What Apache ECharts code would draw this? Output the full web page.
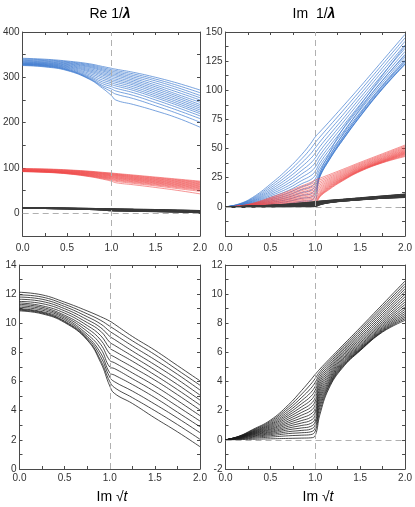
<!DOCTYPE html>
<html><head><meta charset="utf-8">
<script src="https://cdn.jsdelivr.net/npm/echarts@6/dist/echarts.min.js"></script>
<style>html,body{margin:0;padding:0;background:#fff}#c{width:415px;height:507px}</style>
</head><body><div id="c"></div>
<script>
// ---------- x grids ----------
const X_RE = [0, 0.25, 0.5, 0.75, 0.9, 1.0, 1.05, 1.25, 1.5, 1.75, 2.0];
const X_IM = [0, 0.15, 0.3, 0.5, 0.7, 0.85, 0.95, 1.0, 1.05, 1.15, 1.3, 1.5, 1.75, 2.0];
const X_TICKS = [0, 0.5, 1.0, 1.5, 2.0];

// ---------- Re 1/λ, blue family (one column per X_RE point, top curve first) ----------
const RE_BLUE = [
  [342, 340.5, 339, 337.5, 336, 334.7, 333.5, 332.4, 331.4, 330.5, 329.7, 329, 328.3, 327.6, 326.8, 326],
  [340, 338.5, 337, 335.5, 334, 332.7, 331.5, 330.4, 329.4, 328.4, 327.5, 326.6, 325.8, 325, 324, 323],
  [336, 334.5, 333, 331.5, 330, 328.5, 327, 325.5, 324, 322.5, 321, 319.5, 318, 317, 316, 315],
  [330, 328, 326, 324, 322, 319.5, 317, 314.5, 312, 309, 306, 303, 300.5, 298.5, 297, 296],
  [324, 321.5, 319, 316.5, 314, 311, 308, 305, 301.5, 298, 294, 290, 286, 282, 279, 276],
  [320, 317, 314, 311, 308, 305, 302, 298.5, 295, 291.5, 288, 284, 279.5, 274.5, 268.5, 260],
  [318, 315, 312, 309, 306, 303, 299.5, 296, 292.5, 289, 285, 281, 276, 270, 263, 250],
  [311, 307.5, 304, 300.5, 297, 293.5, 290, 286.5, 283, 279, 275, 271, 266, 260, 253, 240],
  [300, 296, 292, 287.5, 283, 279, 275, 271, 267, 263, 259, 255, 250, 244, 237, 226],
  [287, 282, 277, 272, 267, 262, 258, 254, 250, 246, 242, 238, 233, 227, 220, 210],
  [272, 266, 260, 255, 250, 245, 240, 236, 232, 228, 224, 220, 215, 209, 201, 190]
];

// ---------- Re 1/λ, red family (columns per X_RE) ----------
const RE_RED = [
  [99, 98.3, 97.6, 97, 96.4, 95.8, 95.3, 94.8, 94.3, 93.9, 93.5, 93.1, 92.8, 92.5, 92.2, 92],
  [98, 97.3, 96.6, 96, 95.4, 94.8, 94.2, 93.7, 93.2, 92.7, 92.3, 91.9, 91.5, 91.1, 90.8, 90.5],
  [96, 95.3, 94.6, 93.9, 93.2, 92.5, 91.9, 91.3, 90.7, 90.1, 89.6, 89.1, 88.6, 88.1, 87.6, 87.2],
  [93, 92.2, 91.4, 90.6, 89.8, 89, 88.2, 87.4, 86.6, 85.8, 85, 84.2, 83.4, 82.6, 81.8, 81],
  [90.5, 89.6, 88.7, 87.8, 86.9, 86, 85, 84, 83, 82, 81, 80, 79, 78, 76.8, 75.5],
  [89, 88, 87, 86, 85, 84, 83, 82, 81, 79.8, 78.6, 77.4, 76.2, 74.8, 73.2, 71],
  [88, 87, 86, 85, 84, 83, 81.8, 80.6, 79.4, 78.2, 77, 75.6, 74.2, 72.6, 70.6, 67.5],
  [84.5, 83.3, 82.1, 80.9, 79.7, 78.5, 77.3, 76.1, 74.9, 73.7, 72.4, 71, 69.6, 68, 66, 63],
  [80, 78.7, 77.4, 76.1, 74.8, 73.5, 72.2, 70.9, 69.6, 68.3, 67, 65.6, 64.1, 62.5, 60.5, 57],
  [75.5, 74.1, 72.7, 71.3, 69.9, 68.5, 67.1, 65.7, 64.3, 62.9, 61.5, 60, 58.4, 56.7, 54.5, 50.5],
  [71, 69.5, 68, 66.5, 65, 63.5, 62, 60.5, 59, 57.5, 56, 54.5, 52.8, 51, 48.5, 43]
];

// ---------- Re 1/λ, black family (one row per curve, values at X_RE) ----------
const RE_BLACK = [
  [12.13, 11.95, 11.45, 10.85, 10.45, 10.15, 9.95, 9.1, 8.15, 7.1, 6.05],
  [11.95, 11.8, 11.3, 10.65, 10.2, 9.8, 9.6, 8.8, 7.85, 6.8, 5.75],
  [11.8, 11.65, 11.15, 10.45, 9.95, 9.45, 9.25, 8.45, 7.5, 6.5, 5.42],
  [11.65, 11.5, 11.0, 10.25, 9.7, 9.1, 8.9, 8.1, 7.15, 6.15, 5.07],
  [11.5, 11.35, 10.85, 10.05, 9.45, 8.7, 8.5, 7.75, 6.8, 5.8, 4.73],
  [11.4, 11.2, 10.7, 9.85, 9.15, 8.3, 8.1, 7.4, 6.45, 5.45, 4.39],
  [11.3, 11.1, 10.55, 9.65, 8.85, 7.9, 7.7, 7.0, 6.1, 5.1, 4.05],
  [11.2, 11.0, 10.45, 9.45, 8.55, 7.45, 7.3, 6.6, 5.7, 4.7, 3.66],
  [11.1, 10.9, 10.35, 9.25, 8.25, 7.0, 6.9, 6.2, 5.3, 4.3, 3.29],
  [11.0, 10.8, 10.25, 9.1, 7.95, 6.6, 6.45, 5.8, 4.9, 3.9, 2.9],
  [10.95, 10.75, 10.15, 9.0, 7.7, 6.3, 6.0, 5.35, 4.45, 3.5, 2.49],
  [10.9, 10.7, 10.1, 8.9, 7.45, 6.0, 5.6, 4.9, 4.0, 3.05, 2.04],
  [10.85, 10.65, 10.05, 8.85, 7.3, 5.7, 5.2, 4.5, 3.5, 2.55, 1.53]
];

// ---------- Im 1/λ, blue family (columns per X_IM) ----------
const IM_BLUE = [
  [0,0,0,0,0,0,0,0,0,0,0,0,0,0,0,0],
  [2.5, 2.3, 2.1, 1.9, 1.7, 1.55, 1.4, 1.25, 1.1, 0.95, 0.8, 0.65, 0.5, 0.35, 0.22, 0.1],
  [8, 7.3, 6.6, 6.0, 5.4, 4.9, 4.4, 3.9, 3.4, 2.95, 2.5, 2.05, 1.6, 1.15, 0.7, 0.25],
  [19.5, 17.8, 16.2, 14.7, 13.3, 12.0, 10.7, 9.5, 8.3, 7.1, 6.0, 4.9, 3.8, 2.7, 1.6, 0.5],
  [33, 30.2, 27.5, 25, 22.6, 20.3, 18.1, 16, 14, 12, 10.1, 8.3, 6.5, 4.7, 2.9, 0.9],
  [45, 41.3, 37.8, 34.5, 31.3, 28.3, 25.4, 22.6, 19.9, 17.3, 14.8, 12.3, 9.9, 7.4, 4.8, 1.4],
  [54.5, 50, 45.7, 41.6, 37.6, 33.8, 30.2, 26.7, 23.4, 20.2, 17.1, 14.1, 11.2, 8.3, 5.4, 1.9],
  [60, 55.2, 50.6, 46.2, 42, 38, 34.2, 30.6, 27.2, 24, 21, 18.2, 15.5, 12.8, 10, 4],
  [64.2, 59.8, 55.6, 51.6, 47.8, 44.2, 40.8, 37.6, 34.7, 32, 29.6, 27.6, 26.2, 25.6, 26, 28],
  [72.6, 68.6, 64.8, 61.1, 57.6, 54.3, 51.2, 48.3, 45.7, 43.4, 41.5, 40.1, 39.4, 39.8, 41.8, 45],
  [85.5, 81.8, 78.2, 74.8, 71.6, 68.6, 65.8, 63.2, 60.9, 59, 57.5, 56.6, 56.8, 58.5, 61.5, 66],
  [103, 99.7, 96.5, 93.5, 90.6, 87.9, 85.4, 83.1, 81.1, 79.4, 78.1, 77.4, 77.8, 80, 84, 87],
  [125.5, 122.4, 119.4, 116.5, 113.7, 111.1, 108.7, 106.5, 104.6, 103, 101.8, 101.2, 101.6, 104, 108.5, 113],
  [148, 145, 142, 139, 136, 133.3, 130.8, 128.5, 126.5, 124.7, 123.2, 122.3, 122.5, 125, 130, 138]
];

// ---------- Im 1/λ, red family (columns per X_IM) ----------
const IM_RED = [
  [0,0,0,0,0,0,0,0,0,0,0,0,0,0,0,0],
  [0.8, 0.74, 0.68, 0.62, 0.56, 0.5, 0.45, 0.4, 0.35, 0.3, 0.25, 0.2, 0.15, 0.1, 0.06, 0.03],
  [3, 2.75, 2.5, 2.27, 2.05, 1.84, 1.64, 1.45, 1.27, 1.1, 0.93, 0.77, 0.61, 0.45, 0.29, 0.12],
  [8, 7.3, 6.65, 6.05, 5.48, 4.94, 4.43, 3.95, 3.49, 3.05, 2.63, 2.22, 1.82, 1.4, 0.95, 0.35],
  [13.5, 12.4, 11.35, 10.35, 9.4, 8.5, 7.65, 6.85, 6.07, 5.32, 4.6, 3.9, 3.2, 2.45, 1.65, 0.6],
  [18, 16.6, 15.25, 13.95, 12.7, 11.5, 10.35, 9.25, 8.2, 7.18, 6.2, 5.23, 4.27, 3.28, 2.2, 0.8],
  [21, 19.4, 17.85, 16.35, 14.9, 13.5, 12.15, 10.85, 9.6, 8.4, 7.23, 6.1, 4.97, 3.82, 2.6, 0.95],
  [23, 21.3, 19.65, 18.05, 16.5, 15, 13.55, 12.15, 10.8, 9.5, 8.25, 7.05, 5.85, 4.65, 3.4, 1.5],
  [24.5, 23, 21.55, 20.15, 18.8, 17.5, 16.25, 15.05, 13.9, 12.8, 11.8, 10.9, 10.1, 9.5, 9.0, 8.5],
  [27.5, 26.3, 25.15, 24.05, 23, 22, 21.05, 20.15, 19.3, 18.5, 17.75, 17.05, 16.4, 15.8, 15.2, 14.6],
  [32, 31, 30.05, 29.15, 28.3, 27.5, 26.75, 26.05, 25.4, 24.8, 24.25, 23.75, 23.3, 22.9, 22.5, 22.1],
  [38.2, 37.35, 36.55, 35.8, 35.1, 34.45, 33.85, 33.3, 32.8, 32.35, 31.95, 31.6, 31.3, 31.0, 30.7, 30.4],
  [45.6, 44.75, 43.95, 43.2, 42.5, 41.85, 41.25, 40.7, 40.2, 39.75, 39.35, 39.0, 38.7, 38.4, 38.1, 37.8],
  [53, 52.1, 51.25, 50.45, 49.7, 49.0, 48.35, 47.75, 47.2, 46.7, 46.2, 45.7, 45.2, 44.6, 43.9, 43.2]
];

// ---------- Im 1/λ, black family (columns per X_IM) ----------
const IM_BLACK = [
  [0,0,0,0,0,0,0,0,0,0,0,0,0,0,0,0,0,0],
  [0.25, 0.24, 0.23, 0.22, 0.21, 0.2, 0.19, 0.18, 0.17, 0.16, 0.15, 0.14, 0.13, 0.11, 0.09, 0.07, 0.05, 0.02],
  [0.7, 0.66, 0.62, 0.58, 0.55, 0.52, 0.49, 0.46, 0.43, 0.4, 0.37, 0.34, 0.3, 0.26, 0.22, 0.17, 0.11, 0.04],
  [1.35, 1.27, 1.19, 1.11, 1.04, 0.97, 0.9, 0.83, 0.76, 0.7, 0.63, 0.56, 0.5, 0.43, 0.36, 0.28, 0.19, 0.07],
  [2.4, 2.25, 2.1, 1.95, 1.81, 1.68, 1.55, 1.42, 1.29, 1.17, 1.05, 0.93, 0.81, 0.69, 0.56, 0.43, 0.28, 0.1],
  [3.4, 3.15, 2.92, 2.7, 2.49, 2.28, 2.08, 1.89, 1.7, 1.51, 1.33, 1.16, 0.99, 0.82, 0.65, 0.49, 0.32, 0.12],
  [4.12, 3.82, 3.53, 3.25, 2.98, 2.72, 2.47, 2.23, 2.0, 1.77, 1.55, 1.34, 1.13, 0.93, 0.74, 0.55, 0.36, 0.14],
  [4.5, 4.22, 3.95, 3.68, 3.42, 3.16, 2.9, 2.65, 2.4, 2.16, 1.93, 1.7, 1.47, 1.25, 1.04, 0.83, 0.6, 0.3],
  [4.85, 4.68, 4.51, 4.34, 4.17, 4.0, 3.83, 3.66, 3.49, 3.32, 3.15, 2.98, 2.8, 2.6, 2.4, 2.2, 1.95, 1.7],
  [5.5, 5.36, 5.22, 5.08, 4.95, 4.82, 4.69, 4.56, 4.44, 4.32, 4.2, 4.09, 3.98, 3.88, 3.78, 3.69, 3.6, 3.5],
  [6.45, 6.33, 6.21, 6.1, 5.99, 5.88, 5.78, 5.68, 5.58, 5.49, 5.4, 5.32, 5.24, 5.17, 5.1, 5.04, 4.98, 4.92],
  [7.7, 7.56, 7.42, 7.28, 7.15, 7.02, 6.9, 6.78, 6.67, 6.57, 6.48, 6.4, 6.33, 6.27, 6.22, 6.18, 6.15, 6.12],
  [9.3, 9.14, 8.98, 8.83, 8.68, 8.53, 8.39, 8.25, 8.12, 8.0, 7.89, 7.79, 7.7, 7.62, 7.55, 7.49, 7.44, 7.4],
  [10.9, 10.72, 10.54, 10.36, 10.18, 10.0, 9.82, 9.64, 9.46, 9.29, 9.12, 8.96, 8.81, 8.67, 8.54, 8.42, 8.31, 8.2]
];

// ---------- texts ----------
const TITLE_RE = 'Re';
const TITLE_IM = 'Im';
const X_TITLE = 'Im';

// ---------- build ----------
function colsToRows(cols) {
  const rows = [];
  for (let i = 0; i < cols[0].length; i++) rows.push(cols.map(c => c[i]));
  return rows;
}
const FONT = 'Liberation Sans, Arial, sans-serif';
const AX = '#4a4a4a';

const grids = [
  {left: 19.5, top: 32, width: 180.5, height: 204},
  {left: 225.5, top: 32, width: 180.5, height: 204},
  {left: 19.5, top: 265, width: 180.5, height: 204},
  {left: 225.5, top: 265, width: 180.5, height: 204}
];
const yCfg = [
  {min: -50, max: 400, interval: 50, minor: false, fmt: v => (v >= 0 && v % 100 === 0) ? String(v) : ''},
  {min: -25, max: 150, interval: 25, minor: true, fmt: v => v >= 0 ? String(v) : ''},
  {min: 0, max: 14, interval: 2, minor: true, fmt: v => String(v)},
  {min: -2, max: 12, interval: 2, minor: true, fmt: v => String(v)}
];
const xMargins = [7, 7, 4, 4];

const xAxis = [], yAxis = [];
grids.forEach((g, gi) => {
  const xbase = {
    type: 'value', gridIndex: gi, min: X_TICKS[0], max: X_TICKS[X_TICKS.length - 1],
    interval: X_TICKS[1] - X_TICKS[0],
    axisLine: {show: true, onZero: false, lineStyle: {color: AX, width: 1}},
    axisTick: {show: true, inside: true, length: 3, lineStyle: {color: AX}},
    minorTick: {show: true, splitNumber: 2, length: 3, lineStyle: {color: AX}},
    splitLine: {show: false}
  };
  xAxis.push(Object.assign({}, xbase, {position: 'bottom',
    axisLabel: {show: true, margin: xMargins[gi], fontSize: 10, color: '#333', fontFamily: FONT,
      formatter: v => v.toFixed(1)}}));
  xAxis.push(Object.assign({}, xbase, {position: 'top', axisLabel: {show: false}}));
  const c = yCfg[gi];
  const ybase = {
    type: 'value', gridIndex: gi, min: c.min, max: c.max, interval: c.interval,
    axisLine: {show: true, onZero: false, lineStyle: {color: AX, width: 1}},
    axisTick: {show: true, inside: true, length: 3, lineStyle: {color: AX}},
    minorTick: {show: c.minor, splitNumber: 2, length: 3, lineStyle: {color: AX}},
    splitLine: {show: false}
  };
  yAxis.push(Object.assign({}, ybase, {position: 'left',
    axisLabel: {show: true, margin: 3, fontSize: 10, color: '#333', fontFamily: FONT, formatter: c.fmt}}));
  yAxis.push(Object.assign({}, ybase, {position: 'right', axisLabel: {show: false}}));
});

const series = [];
function addFamily(gi, xs, rows, color, width, opacity) {
  rows.forEach(r => {
    series.push({
      type: 'line', xAxisIndex: gi * 2, yAxisIndex: gi * 2,
      data: xs.map((x, k) => [x, r[k]]),
      symbol: 'none', smooth: 0.45,
      lineStyle: {color: color, width: width, opacity: opacity},
      silent: true, animation: false, z: 3
    });
  });
}
function addRefLines(gi, withZero) {
  const d = [{xAxis: 1}];
  if (withZero) d.push({yAxis: 0});
  series.push({
    type: 'line', xAxisIndex: gi * 2, yAxisIndex: gi * 2, data: [[1, 0]], symbol: 'none',
    lineStyle: {opacity: 0}, silent: true, animation: false, z: 1,
    markLine: {silent: true, symbol: 'none', animation: false, label: {show: false},
      lineStyle: {type: [6, 4], color: '#b0b0b0', width: 1}, data: d}
  });
}

const BLUE = '#3f7bd0', RED = '#ef4b4b', DARK = '#3a3a3a', BLK = '#1e1e1e';
// panel 0 : Re 1/λ
addRefLines(0, true);
addFamily(0, X_RE, colsToRows(RE_BLUE), BLUE, 0.7, 1);
addFamily(0, X_RE, colsToRows(RE_RED), RED, 0.7, 0.85);
addFamily(0, X_RE, RE_BLACK, DARK, 1.2, 1);
// panel 1 : Im 1/λ
addRefLines(1, true);
addFamily(1, X_IM, colsToRows(IM_BLUE), BLUE, 0.7, 1);
addFamily(1, X_IM, colsToRows(IM_RED), RED, 0.7, 0.85);
addFamily(1, X_IM, colsToRows(IM_BLACK), DARK, 1.2, 1);
// panel 2 : Re, black zoom
addRefLines(2, false);
addFamily(2, X_RE, RE_BLACK, BLK, 0.8, 1);
// panel 3 : Im, black zoom
addRefLines(3, true);
addFamily(3, X_IM, colsToRows(IM_BLACK), BLK, 0.8, 1);

const titleRich = {
  n: {fontSize: 14, fontFamily: FONT, color: '#222'},
  l: {fontSize: 14, fontFamily: FONT, color: '#222', fontWeight: 'bold', fontStyle: 'italic'},
  t: {fontSize: 14, fontFamily: FONT, color: '#222', fontStyle: 'italic'}
};
const graphic = [
  {type: 'text', x: 110, y: 14, style: {text: '{n|' + TITLE_RE + ' 1/}{l|λ}', rich: titleRich, align: 'center', verticalAlign: 'middle'}},
  {type: 'text', x: 314, y: 14, style: {text: '{n|' + TITLE_IM + '  1/}{l|λ}', rich: titleRich, align: 'center', verticalAlign: 'middle'}},
  {type: 'text', x: 112, y: 497, style: {text: '{n|' + X_TITLE + ' √}{t|t}', rich: titleRich, align: 'center', verticalAlign: 'middle'}},
  {type: 'text', x: 318, y: 497, style: {text: '{n|' + X_TITLE + ' √}{t|t}', rich: titleRich, align: 'center', verticalAlign: 'middle'}}
];

const chart = echarts.init(document.getElementById('c'), null, {renderer: 'canvas'});
chart.setOption({
  animation: false,
  backgroundColor: '#fff',
  grid: grids.map(g => Object.assign({containLabel: false}, g)),
  xAxis: xAxis, yAxis: yAxis, series: series, graphic: graphic
});
</script></body></html>
